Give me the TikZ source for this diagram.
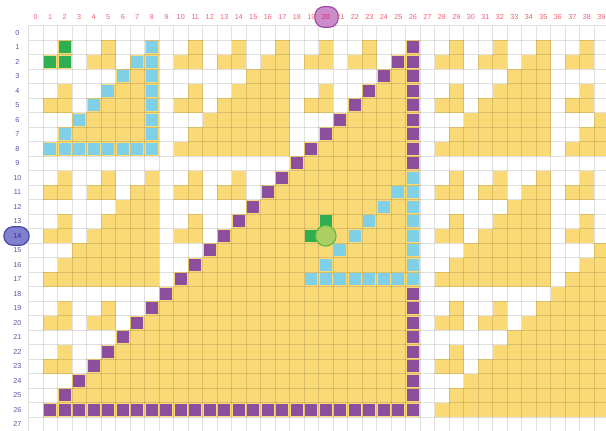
\documentclass[tikz,border=0pt]{standalone}
\usepackage{fontspec}
\newfontfamily\labfont{Liberation Sans}
\definecolor{yel}{HTML}{F9DA77}
\definecolor{pur}{HTML}{8C4F9E}
\definecolor{blu}{HTML}{80D0E8}
\definecolor{grn}{HTML}{2DAF52}
\definecolor{collab}{HTML}{F0606E}
\definecolor{rowlab}{HTML}{5457A8}
\tikzset{
  collabel/.style={text=collab,font=\labfont\fontsize{5.4}{6}\selectfont,inner sep=0pt},
  rowlabel/.style={text=rowlab,font=\labfont\fontsize{5.4}{6}\selectfont,inner sep=0pt},
  gridline/.style={draw=black,draw opacity=0.12,line width=0.6},
}
\newcommand{\hlcell}[3]{\fill[#1] ({28.5+14.5*(#3)+1.3},{25.5+14.5*(#2)+1.3}) rectangle ++(11.9,11.9);}
\begin{document}
\begin{tikzpicture}[x=0.75pt,y=-0.75pt]
\useasboundingbox (0,0) rectangle (606,430);
\clip (0,0) rectangle (606,430);
% filled cells: C(r+c,r) divisible by 3
\foreach \ri in {0,...,27}{
  \foreach \ci in {0,...,39}{
    \pgfmathtruncatemacro\fl{(mod(\ri,3)+mod(\ci,3)>2)+(mod(div(\ri,3),3)+mod(div(\ci,3),3)>2)+(mod(div(\ri,9),3)+mod(div(\ci,9),3)>2)+(mod(div(\ri,27),3)+mod(div(\ci,27),3)>2)}
    \ifnum\fl>0
      \fill[yel] ({28.5+14.5*\ci},{25.5+14.5*\ri}) rectangle ++(14.5,14.5);
    \fi
  }
}
% grid
\foreach \k in {0,...,40}{
  \draw[gridline] ({28.5+14.5*\k},25.5) -- ({28.5+14.5*\k},431);
}
\foreach \k in {0,...,28}{
  \draw[gridline] (28.5,{25.5+14.5*\k}) -- (607,{25.5+14.5*\k});
}
% purple structure
\foreach \k in {1,...,26}{
  \hlcell{pur}{\k}{26}
  \hlcell{pur}{26}{\k}
  \hlcell{pur}{\k}{27-\k}
}
% blue structures
\foreach \k in {1,...,8}{
  \hlcell{blu}{\k}{8}
  \hlcell{blu}{8}{\k}
  \hlcell{blu}{\k}{9-\k}
}
\foreach \k in {10,...,17}{
  \hlcell{blu}{\k}{26}
  \hlcell{blu}{17}{\k+9}
  \hlcell{blu}{\k}{36-\k}
}
% green structures
\hlcell{grn}{1}{2}
\hlcell{grn}{2}{1}
\hlcell{grn}{2}{2}
\hlcell{grn}{13}{20}
\hlcell{grn}{14}{19}
% current cell
\node[circle,minimum size=15.5,inner sep=0pt,fill={rgb,255:red,172;green,206;blue,98},draw={rgb,255:red,96;green,186;blue,66},line width=0.9] (cur) at (325.75,235.75) {};
% highlighted label backgrounds
\node[rectangle,rounded corners=7,minimum width=17.5,minimum height=15.5,inner sep=0pt,fill={rgb,255:red,204;green,140;blue,204},draw={rgb,255:red,156;green,78;blue,162},line width=0.9] (colhl) at (326.5,17) {};
\node[rectangle,rounded corners=7,minimum width=19,minimum height=14,inner sep=0pt,fill={rgb,255:red,128;green,128;blue,206},draw={rgb,255:red,72;green,72;blue,168},line width=0.9] (rowhl) at (16.5,236) {};
% labels
\foreach \k in {0,...,39}{
  \ifnum\k=20
    \node[collabel,text={rgb,255:red,210;green,40;blue,110}] (col\k) at ({35.75+14.5*\k},17) {\k};
  \else
    \node[collabel] (col\k) at ({35.75+14.5*\k},17) {\k};
  \fi
}
\foreach \k in {0,...,27}{
  \ifnum\k=14
    \node[rowlabel,text={rgb,255:red,50;green,50;blue,130}] (row\k) at (17.5,{32.75+14.5*\k}) {\k};
  \else
    \node[rowlabel] (row\k) at (17.5,{32.75+14.5*\k}) {\k};
  \fi
}
\end{tikzpicture}
\end{document}
